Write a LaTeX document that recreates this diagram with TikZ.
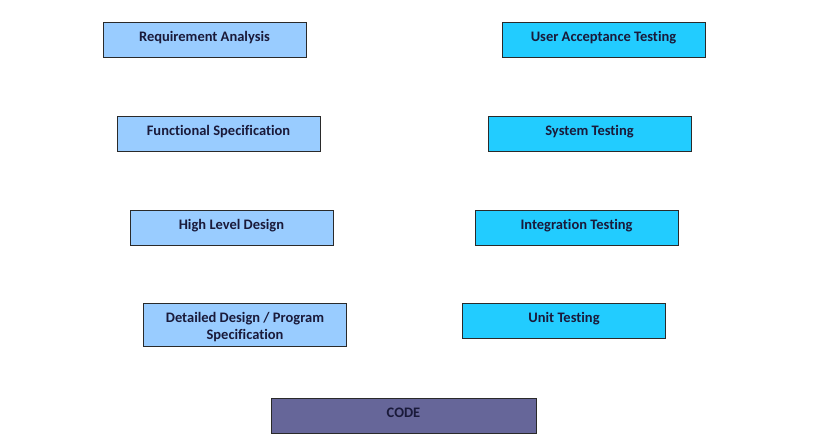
\documentclass[tikz,border=0pt]{standalone}
\usepackage{fontspec}
\setmainfont[Ligatures={NoCommon}]{Carlito}
\definecolor{leftfill}{HTML}{99CCFF}
\definecolor{rightfill}{HTML}{22CCFF}
\definecolor{codefill}{HTML}{666699}
\definecolor{txt}{HTML}{1A1A3A}
\definecolor{edge}{HTML}{2A2A2A}
\tikzset{
  phase/.style={draw=edge, line width=0.9pt, rectangle, inner xsep=2pt,
    font=\fontsize{14.5}{17}\selectfont\bfseries, text=txt,
    minimum width=203pt, minimum height=35pt, text height=10pt, text depth=7pt},
  leftbox/.style={phase, fill=leftfill},
  rightbox/.style={phase, fill=rightfill},
}
\begin{document}
\begin{tikzpicture}[x=1pt,y=-1pt]
\useasboundingbox[fill=white] (0,0) rectangle (818,445);
\node[leftbox] (req) at (204.5,39.5) {Requirement Analysis};
\node[leftbox] (func) at (218.5,133.5) {Functional Specification};
\node[leftbox] (hld) at (231.5,227.5) {High Level Design};
\node[draw=edge, line width=0.9pt, fill=leftfill, minimum width=203pt, minimum height=43pt] (dd) at (245,324.5) {};
\node[font=\fontsize{14.5}{17}\selectfont\bfseries, text=txt, align=center, inner sep=0pt] (ddtext) at (245,327) {Detailed Design / Program\\Specification};
\node[rightbox] (uat) at (603.5,39.5) {User Acceptance Testing};
\node[rightbox] (sys) at (589.5,133.5) {System Testing};
\node[rightbox] (int) at (576.5,227.5) {Integration Testing};
\node[rightbox] (unit) at (564,320.5) {Unit Testing};
\node[phase, fill=codefill, minimum width=265pt] (code) at (403.5,415.5) {CODE};
\end{tikzpicture}
\end{document}
